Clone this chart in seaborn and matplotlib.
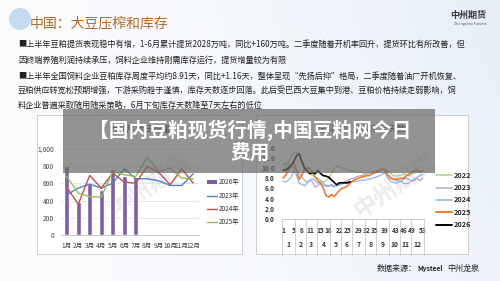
import numpy as np
import pandas as pd
import seaborn as sns
import matplotlib
matplotlib.use("Agg")
import matplotlib.pyplot as plt
from matplotlib.patches import Rectangle, Ellipse, Patch
from matplotlib.lines import Line2D
import matplotlib.transforms as mtransforms

# ---- data ----
months = ['1月', '2月', '3月', '4月', '5月', '6月', '7月', '8月', '9月', '10月', '11月', '12月']
crush_2026 = [805, 389, 595, 525, 765, 690, 675]
crush_2023 = [467, 545, 591, 545, 603, 770, 654, 654, 630, 576, 576, 712]
crush_2024 = [556, 358, 693, 545, 720, 615, 603, 798, 728, 584, 770, 603]
crush_2025 = [681, 486, 447, 440, 739, 700, 681, 903, 739, 778, 661, 654]

week_ticks = [1, 5, 8, 11, 15, 18, 22, 25, 29, 32, 35, 39, 43, 46, 49, 53]
month_weeks = [5, 4, 4, 5, 4, 4, 5, 4, 5, 4, 4, 5]
inv_2022 = [9.5, 10.0, 11.0, 12.3, 13.0, 13.0, 12.8, 11.2, 9.8, 9.2,
            8.8, 8.5, 8.2, 8.0, 7.6, 7.2, 7.5, 8.0, 8.8, 9.8,
            10.4, 10.2, 10.0, 9.8, 9.6, 9.5, 9.5, 9.3, 9.2, 9.2,
            9.0, 9.0, 9.2, 9.3, 9.4, 9.5, 9.6, 9.8, 9.6, 9.4,
            9.0, 8.6, 8.4, 8.5, 8.6, 8.8, 8.6, 8.5, 8.8, 9.0,
            9.2, 9.4, 9.5]
inv_2023 = [10.5, 11.0, 10.6, 10.2, 10.0, 9.6, 9.0, 8.2, 7.6, 7.2,
            7.6, 7.2, 6.2, 6.6, 7.0, 6.6, 6.4, 6.4, 6.5, 6.3,
            6.5, 6.8, 7.0, 7.3, 7.5, 7.8, 8.0, 8.2, 8.4, 8.5,
            8.6, 8.8, 8.9, 9.0, 9.2, 9.4, 9.6, 9.8, 9.5, 8.8,
            8.2, 7.8, 7.6, 7.5, 7.3, 7.0, 6.9, 7.1, 7.4, 7.6,
            7.9, 7.5, 8.0]
inv_2024 = [7.4, 7.3, 7.6, 8.2, 9.5, 8.6, 7.0, 6.8, 6.5, 7.0,
            7.6, 7.9, 7.5, 7.0, 7.4, 7.0, 6.6, 6.5, 6.8, 6.5,
            6.5, 6.7, 6.9, 7.1, 7.0, 7.2, 7.3, 7.4, 7.5, 7.6,
            7.6, 7.7, 7.8, 8.0, 8.1, 8.3, 8.5, 8.8, 9.0, 8.0,
            7.4, 7.2, 7.0, 7.3, 7.5, 7.8, 8.0, 7.7, 7.5, 7.9,
            8.2, 8.5, 8.8]
inv_2025 = [8.0, 8.6, 9.6, 10.5, 11.0, 9.5, 7.8, 8.6, 9.8, 10.0,
            10.0, 9.2, 8.2, 7.6, 7.0, 6.0, 4.6, 4.3, 4.8, 4.4,
            5.0, 5.6, 6.0, 6.2, 6.5, 7.0, 7.5, 7.8, 8.0, 8.2,
            8.3, 8.5, 8.5, 8.8, 9.0, 9.2, 9.5, 9.8, 9.6, 8.6,
            8.0, 7.8, 7.8, 7.9, 8.0, 8.0, 8.5, 8.8, 9.2, 9.5,
            9.5, 9.3, 9.5]
inv_2026 = [9.5, 9.6, 10.0, 10.5, 11.3, 12.4, 12.8, 11.3, 10.0, 9.5,
            8.9, 9.1, 8.9, 9.5, 8.9, 8.5, 8.4, 8.2, 7.7, 7.2,
            6.7, 7.1, 7.1, 7.1, 7.1, 7.3]

text_lines = [
    "■上半年豆粕提货表现稳中有增，1-6月累计提货2028万吨，同比+160万吨。二季度随着开机率回升，提货环比有所改善，但",
    "因终端养殖利润持续承压，饲料企业维持刚需库存运行，提货增量较为有限",
    "■上半年全国饲料企业豆粕库存周度平均约8.91天，同比+1.16天，整体呈现“先扬后抑”格局，二季度随着油厂开机恢复、",
    "豆粕供应转宽松预期增强，下游采购趋于谨慎，库存天数逐步回落。此后受巴西大豆集中到港、豆粕价格持续走弱影响，饲",
    "料企业普遍采取随用随采策略，6月下旬库存天数降至7天左右的低位",
]

sns.set_theme(style="white")
plt.rcParams['font.family'] = ['Noto Sans CJK SC', 'DejaVu Sans']
plt.rcParams['axes.unicode_minus'] = False

W, H = 500, 281
def fx(px):
    return px / W
def fy(py):
    return 1 - py / H

fig = plt.figure(figsize=(5, 2.81), dpi=100)

# background gradient
bg = fig.add_axes([0, 0, 1, 1], zorder=-10)
gx = np.linspace(0, 1, 200)
gy = np.linspace(0, 1, 120)
GX, GY = np.meshgrid(gx, gy)
c_white = np.array([0.985, 0.988, 0.995])
c_blue = np.array([0.89, 0.925, 0.97])
t = np.clip(0.85 * GX ** 1.5 * (1 - 0.35 * GY), 0, 1)[..., None]
img = c_white * (1 - t) + c_blue * t
bg.imshow(img, extent=[0, 1, 0, 1], aspect='auto', origin='upper')
bg.set_xlim(0, 1)
bg.set_ylim(0, 1)
bg.set_axis_off()

# header
bg.add_patch(Ellipse((fx(20), fy(19)), 22 / W, 22 / H, transform=fig.transFigure,
                     facecolor='#b9d3ee', edgecolor='none', alpha=0.8))
fig.text(fx(30), fy(23), "中国：大豆压榨和库存", fontsize=10, color='#b0692c', va='center', ha='left')
fig.text(fx(486), fy(15), "中州期货", fontsize=6.5, color='#3a3a3a', weight='bold', va='center', ha='right')
fig.text(fx(486), fy(23.5), "Zhongzhou Futures", fontsize=2.6, color='#555555', va='center', ha='right')

line_y = [44.5, 60.5, 76, 90.5, 105]
for s, yy in zip(text_lines, line_y):
    fig.text(fx(18), fy(yy), s, fontsize=5.9, color='#222222', va='center', ha='left')

# panels (drawn on the background axes so they stay behind the charts)
for x0, x1 in [(37, 242), (256, 468)]:
    bg.add_patch(Rectangle((fx(x0), fy(254)), (x1 - x0) / W, (254 - 115) / H,
                           transform=fig.transFigure, facecolor='white',
                           edgecolor='#c8c8c8', linewidth=0.6))

# watermarks
for (wx, wy) in [(150, 185), (395, 185)]:
    bg.text(fx(wx), fy(wy), "中州期货", fontsize=17, color='#c9c9c9', alpha=0.35,
            rotation=35, ha='center', va='center', weight='bold', transform=fig.transFigure)

# ---- left chart ----
axL = fig.add_axes([fx(61), fy(235), 138 / W, 86 / H])
bar_df = pd.DataFrame({'month': months[:len(crush_2026)], 'value': crush_2026})
sns.barplot(data=bar_df, x='month', y='value', order=months, color='#7e5fa6',
            width=0.42, saturation=1, ax=axL)
line_df = pd.concat([
    pd.DataFrame({'pos': range(12), 'value': v, 'year': y})
    for y, v in [('2023年', crush_2023), ('2024年', crush_2024), ('2025年', crush_2025)]
])
left_pal = {'2023年': '#4f81bd', '2024年': '#c0504d', '2025年': '#9bbb59'}
sns.lineplot(data=line_df, x='pos', y='value', hue='year', palette=left_pal,
             linewidth=1.0, legend=False, ax=axL)
axL.set_xlim(-0.5, 11.5)
axL.set_ylim(0, 1000)
axL.set_yticks(range(0, 1001, 200))
axL.set_yticklabels(['0', '200', '400', '600', '800', '1,000'])
axL.set_xlabel('')
axL.set_ylabel('')
axL.tick_params(axis='both', labelsize=4.8, length=0, colors='#444444')
axL.tick_params(axis='x', pad=5)
axL.tick_params(axis='y', pad=5)
axL.yaxis.grid(True, color='#dcdcdc', linewidth=0.5)
axL.set_axisbelow(True)
for side in ['top', 'right', 'left']:
    axL.spines[side].set_visible(False)
axL.spines['bottom'].set_color('#bfbfbf')
axL.spines['bottom'].set_linewidth(0.6)
axL.patch.set_alpha(0)
fig.text(fx(140), fy(129), "大豆月度压榨量", fontsize=6.5, color='#333333', ha='center', va='center')

hL = [Patch(facecolor='#7e5fa6', edgecolor='none')] + \
     [Line2D([], [], color=left_pal[k], linewidth=1.0) for k in ['2023年', '2024年', '2025年']]
fig.legend(hL, ['2026年', '2023年', '2024年', '2025年'], loc='upper left',
           bbox_to_anchor=(fx(204), fy(175)), frameon=False, fontsize=4.6,
           handlelength=1.6, handleheight=0.5, handletextpad=0.2, labelspacing=0.85,
           borderpad=0, labelcolor='#333333')

# ---- right chart ----
axR = fig.add_axes([fx(281.7), fy(219), 142.3 / W, 71.4 / H])
inv_pal = {'2022': '#a9d08e', '2023': '#b4a7d6', '2024': '#8eb4e3', '2025': '#ed7d31', '2026': '#000000'}
inv_lw = {'2022': 0.9, '2023': 0.9, '2024': 0.9, '2025': 1.2, '2026': 1.2}
for yr, vals in [('2022', inv_2022), ('2023', inv_2023), ('2024', inv_2024),
                 ('2025', inv_2025), ('2026', inv_2026)]:
    sns.lineplot(x=list(range(1, len(vals) + 1)), y=vals, color=inv_pal[yr],
                 linewidth=inv_lw[yr], ax=axR)
axR.set_xlim(0.5, 53.5)
axR.set_ylim(0, 14)
axR.set_yticks(range(0, 15, 2))
axR.set_yticklabels([f'{v:.1f}' for v in range(0, 15, 2)])
axR.set_xticks(week_ticks)
axR.set_xticklabels([str(w) for w in week_ticks])
axR.tick_params(axis='both', labelsize=4.7, length=0, colors='#333333')
for lab in axR.get_xticklabels() + axR.get_yticklabels():
    lab.set_fontweight('bold')
axR.tick_params(axis='x', pad=6)
axR.tick_params(axis='y', pad=5)
for side in ['top', 'right', 'left']:
    axR.spines[side].set_visible(False)
axR.spines['bottom'].set_color('#bfbfbf')
axR.spines['bottom'].set_linewidth(0.6)
axR.patch.set_alpha(0)

trans = mtransforms.blended_transform_factory(axR.transData, axR.transAxes)
bounds = np.concatenate([[0.5], 0.5 + np.cumsum(month_weeks)])
for b in bounds:
    axR.plot([b, b], [0, -0.5], transform=trans, color='#bfbfbf', linewidth=0.5, clip_on=False)
for i in range(12):
    axR.text((bounds[i] + bounds[i + 1]) / 2, -0.36, str(i + 1), transform=trans,
             ha='center', va='center', fontsize=4.9, weight='bold', color='#333333')
fig.text(fx(362), fy(129), "饲料企业豆粕库存天数", fontsize=6.5, color='#333333', ha='center', va='center')

hR = [Line2D([], [], color=inv_pal[k], linewidth=inv_lw[k] + 0.2) for k in inv_pal]
fig.legend(hR, list(inv_pal.keys()), loc='upper left',
           bbox_to_anchor=(fx(432), fy(168)), frameon=False,
           handlelength=2.2, handletextpad=0.3, labelspacing=0.75, borderpad=0,
           prop={'weight': 'bold', 'size': 5.2})

# source
fig.text(fx(377), fy(268), "数据来源：", fontsize=5.8, color='#222222', va='center', ha='left')
fig.text(fx(417), fy(268), "Mysteel", fontsize=4.8, color='#222222', va='center', ha='left', weight='bold')
fig.text(fx(447), fy(268), "中州龙泉", fontsize=5.8, color='#222222', va='center', ha='left')

# overlay banner
fig.patches.append(Rectangle((fx(63), fy(173)), (435 - 63) / W, (173 - 109) / H,
                             transform=fig.transFigure, facecolor='#6a6a6a',
                             edgecolor='none', alpha=0.72, zorder=5))
fig.text(fx(250), fy(130), "【国内豆粕现货行情,中国豆粕网今日", fontsize=14.2, color='white',
         weight='bold', ha='center', va='center', zorder=6)
fig.text(fx(250), fy(153), "费用", fontsize=14.2, color='white',
         weight='bold', ha='center', va='center', zorder=6)

fig.savefig('out.png', dpi=100)
